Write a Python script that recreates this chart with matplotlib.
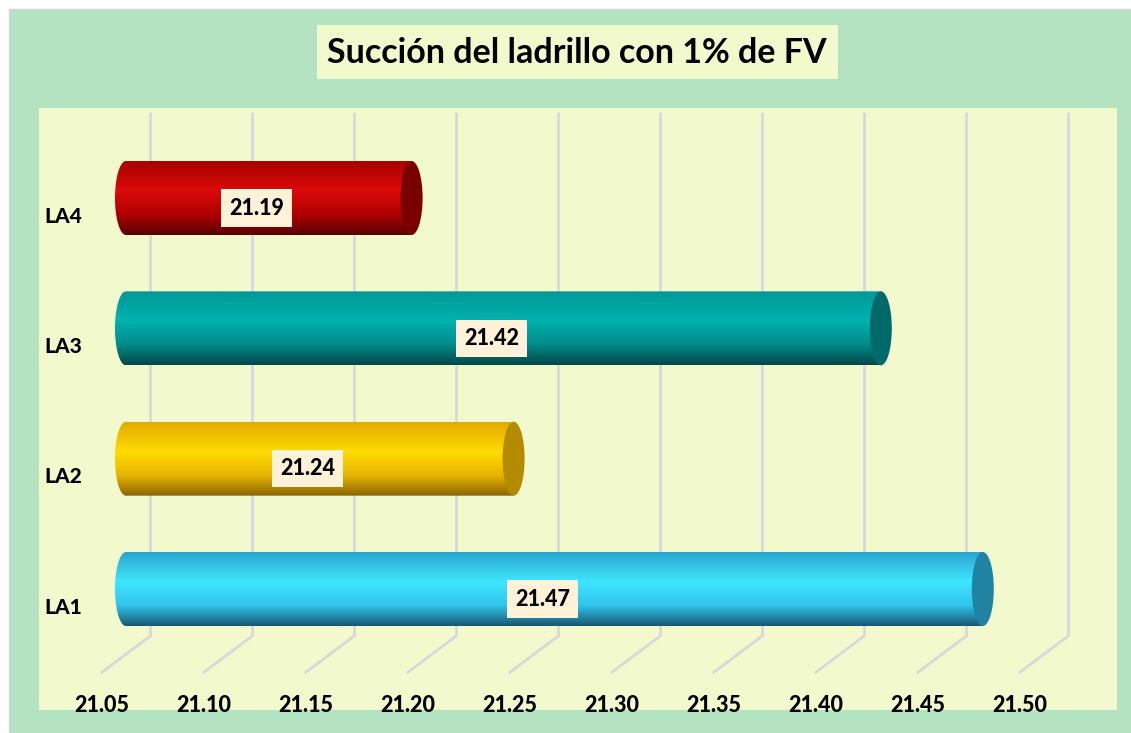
import matplotlib
matplotlib.use("Agg")
import matplotlib.pyplot as plt
from matplotlib.patches import Rectangle, Ellipse, PathPatch
from matplotlib.path import Path
from matplotlib.colors import LinearSegmentedColormap
import numpy as np

# data
categories = ["LA1", "LA2", "LA3", "LA4"]
values = [21.47, 21.24, 21.42, 21.19]
tick_values = [21.05, 21.10, 21.15, 21.20, 21.25, 21.30, 21.35, 21.40, 21.45, 21.50]
title = "Succión del ladrillo con 1% de FV"

# cylinder shading: top, highlight, mid, bottom, end cap
bar_shades = [
    ["#2aa5d0", "#3ee6ff", "#30c4ec", "#185670", "#2183a3"],
    ["#e2aa00", "#ffdc00", "#e6b400", "#8a6500", "#b38a00"],
    ["#009898", "#00b2ae", "#008c8a", "#004848", "#006a6a"],
    ["#a80000", "#dc0a0a", "#b00000", "#580000", "#780000"],
]

plt.rcParams['font.family'] = ['Lato', 'DejaVu Sans']
plt.rcParams['font.weight'] = 'bold'

W, H = 1131, 733
fig = plt.figure(figsize=(W / 100, H / 100), dpi=100, facecolor="white")


def fx(px):
    return px / W


def fy(py):
    return 1 - py / H


# chart area + title box
fig.patches.append(Rectangle((fx(9), 0), 1 - fx(9), fy(9), transform=fig.transFigure,
                             facecolor="#b3e3c0", edgecolor="#d4d4d4", lw=1, zorder=-3))
fig.patches.append(Rectangle((fx(317), fy(79)), fx(838 - 317), (79 - 25) / H,
                             transform=fig.transFigure, facecolor="#f2f9cc",
                             edgecolor="none", zorder=-2))
fig.text(fx(577), fy(53), title, ha="center", va="center", fontsize=24.5,
         fontweight="bold", color="black", zorder=2)

ax = fig.add_axes([fx(39), fy(710), fx(1117 - 39), (710 - 108) / H])
ax.set_facecolor("#f2f9cc")
for s in ax.spines.values():
    s.set_visible(False)
ax.set_xticks([])
ax.set_yticks([])

# pixel scale of the middle depth plane
px_per_x = 2040.0
px_per_y = 130.33
x0 = 21.05 - (126 - 39) / px_per_x
x1 = 21.05 + (1117 - 126) / px_per_x
y0 = (589 - 710) / px_per_y
y1 = (589 - 108) / px_per_y

DX = 24 / px_per_x   # half depth offset
DY = 18 / px_per_y
EW = 11 / px_per_x   # ellipse half width
BH = 74 / px_per_y   # bar height

# back wall gridlines and floor diagonals
grid_c = "#d9d9d9"
for t in tick_values:
    ax.plot([t + DX, t + DX], [-0.5 + DY, 3.52 + DY], color=grid_c, lw=2, zorder=1,
            solid_capstyle="butt")
    ax.plot([t + DX, t - DX], [-0.5 + DY, -0.5 - DY], color=grid_c, lw=2, zorder=1)
    ax.text(t - DX, (589 - 706) / px_per_y, f"{t:.2f}", ha="center", va="center",
            fontsize=15.5, fontweight="black", zorder=5, clip_on=False)

# cylinders
theta = np.linspace(np.pi / 2, 3 * np.pi / 2, 60)
for i, (cat, v, sh) in enumerate(zip(categories, values, bar_shades)):
    top = i + BH / 2
    bot = i - BH / 2
    ex = 21.05 + EW * np.cos(theta)
    ey = i + BH / 2 * np.sin(theta)
    verts = [(v, top)] + list(zip(ex, ey)) + [(v, bot), (v, top)]
    codes = [Path.MOVETO] + [Path.LINETO] * (len(verts) - 2) + [Path.CLOSEPOLY]
    body = PathPatch(Path(verts, codes), facecolor="none", edgecolor="none")
    ax.add_patch(body)
    cmap = LinearSegmentedColormap.from_list(
        cat, list(zip([0, 0.4, 0.72, 1.0], sh[:4])))
    grad = np.linspace(0, 1, 256).reshape(-1, 1)
    im = ax.imshow(grad, cmap=cmap, aspect="auto", origin="upper",
                   extent=[21.05 - EW, v, bot, top], zorder=3, interpolation="bilinear")
    im.set_clip_path(body)
    ax.add_patch(Ellipse((v, i), 2 * EW, BH, facecolor=sh[4], edgecolor="none", zorder=4))

    ax.annotate(f"{v:.2f}", ((21.05 + v) / 2, i), xytext=(-12, -10),
                textcoords="offset pixels", ha="center", va="center",
                fontsize=15.5, fontweight="black", zorder=6,
                bbox=dict(boxstyle="square,pad=0.38", facecolor="#fff2d8",
                          edgecolor="none"))

    ax.text((44 - 39) / (1117 - 39), i - DY, cat, transform=ax.get_yaxis_transform(),
            ha="left", va="center", fontsize=15, fontweight="black", zorder=5)

ax.set_xlim(x0, x1)
ax.set_ylim(y0, y1)

fig.savefig("out.png", dpi=100, facecolor=fig.get_facecolor())
